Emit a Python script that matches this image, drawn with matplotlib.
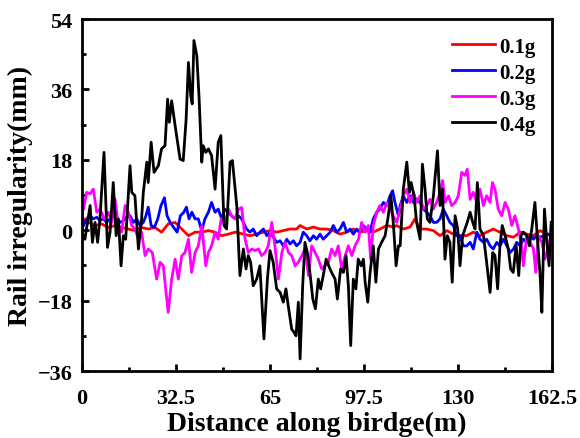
import matplotlib
matplotlib.use("Agg")
import matplotlib.pyplot as plt
from matplotlib.ticker import MultipleLocator

plt.rcParams['font.family'] = ['Liberation Serif', 'DejaVu Serif']
plt.rcParams['font.weight'] = 'bold'

# (distance m, irregularity mm)
pts_01g = [(0.5, 2.9), (2.2, 2.0), (4.5, 1.2), (6.8, 1.6), (9.1, 0.7), (11.4, 1.2),
           (13.7, 0.7), (16.0, 0.3), (18.3, -0.1), (20.6, 0.7), (22.9, 0.3), (25.2, 0.7),
           (27.5, -0.5), (29.8, 1.6), (32.2, 2.0), (34.5, 0.3), (36.8, -1.4), (39.1, -0.5),
           (41.4, -0.5), (43.7, -0.1), (46.0, -0.5), (48.3, -1.4), (50.6, -1.0), (53.0, -0.5),
           (55.8, -1.0), (58.1, -1.4), (60.4, -1.0), (62.7, -0.5), (65.0, -0.1), (67.3, -0.5),
           (69.6, -0.1), (71.9, 0.3), (74.2, 0.3), (75.4, 1.2), (77.7, 0.3), (80.0, 0.8),
           (82.3, 0.3), (84.6, 0.3), (86.9, -0.1), (89.2, -1.0), (91.5, -0.5), (93.8, 0.3),
           (96.1, -0.5), (98.4, -0.1), (100.7, -0.5), (103.0, 0.3), (105.4, 1.2), (107.7, 0.8),
           (108.8, 1.2), (111.1, 0.3), (113.4, 0.8), (115.1, 2.9), (116.9, 0.3), (119.2, 0.3),
           (121.5, -0.1), (123.8, -1.4), (126.1, -0.1), (128.4, -1.0), (130.7, -1.4),
           (133.0, -1.4), (135.3, -0.5), (137.6, -1.4), (139.9, -0.5), (142.2, 0.3),
           (144.5, -0.5), (146.9, -1.4), (149.2, -1.8), (151.5, -0.5), (153.8, -1.0),
           (156.1, -1.4), (158.4, -0.1), (160.7, -1.0), (161.9, -1.4)]

pts_02g = [(0.5, 1.2), (1.6, 2.9), (2.8, 3.7), (3.9, 2.9), (5.1, 3.3), (6.2, 2.5), (7.4, 2.9),
           (8.5, 2.0), (9.7, 2.9), (10.8, 3.7), (12.0, 2.9), (13.1, 2.0), (14.3, 2.5), (15.4, 3.3),
           (16.6, 3.7), (17.8, 2.0), (18.9, 2.9), (20.1, 1.2), (21.2, 2.0), (22.1, 3.7), (22.9, 5.9),
           (23.9, 1.2), (25.0, 0.7), (26.2, 2.9), (27.3, 6.3), (28.5, 8.3), (29.4, 3.7), (30.5, 2.0),
           (31.7, 0.7), (32.9, -0.5), (34.0, 3.7), (35.2, 4.6), (36.1, 5.9), (37.0, 2.9), (38.0, 4.6),
           (39.1, 2.9), (40.2, 2.9), (41.4, -0.1), (42.5, 2.9), (43.7, 4.6), (44.8, 7.1), (46.0, 4.6),
           (47.1, 5.4), (48.3, 2.9), (49.4, 5.4), (50.6, 4.6), (51.7, 3.7), (53.0, 2.9), (54.1, 3.7),
           (55.2, 2.9), (56.9, 0.3), (58.1, -0.5), (59.2, 0.3), (60.4, -1.4), (61.5, -0.5),
           (62.7, 0.3), (63.9, -1.4), (65.0, -0.5), (66.2, -1.8), (67.3, -3.1), (68.5, -2.7),
           (69.6, -4.0), (70.8, -2.3), (71.9, -3.5), (73.1, -2.7), (74.2, -4.0), (75.4, -3.1),
           (76.5, -0.5), (77.7, -1.4), (78.8, -2.7), (80.0, -1.4), (81.1, -2.3), (82.3, -1.0),
           (83.4, -2.3), (84.6, -1.4), (85.8, -0.5), (86.9, 1.2), (88.1, -0.5), (89.2, 0.3),
           (90.4, 2.0), (91.5, -0.5), (92.7, 0.3), (93.8, -1.0), (95.0, 0.3), (96.1, -0.5),
           (97.3, 1.2), (98.4, 0.3), (99.6, -0.5), (100.7, 2.9), (101.9, 4.6), (103.0, 5.4),
           (104.2, 7.1), (105.4, 6.3), (106.5, 8.8), (107.4, 10.1), (108.2, 7.1), (109.4, 3.7),
           (110.0, 6.3), (111.1, 8.8), (112.3, 7.1), (113.4, 8.8), (114.6, 7.1), (115.7, 8.0),
           (116.9, 7.1), (118.0, 5.4), (119.2, 4.6), (120.3, 3.7), (121.5, 2.0), (122.6, 2.0),
           (123.8, 2.9), (124.9, 5.4), (126.1, 3.7), (127.2, 2.0), (128.4, 1.2), (129.5, -1.4),
           (130.7, -1.4), (131.8, -4.0), (133.0, -4.0), (134.2, -3.1), (135.3, -4.8), (136.5, -0.5),
           (137.6, -2.3), (138.8, -3.1), (139.9, -2.3), (141.1, -4.0), (142.2, -4.8), (143.4, -3.1),
           (144.5, -4.0), (145.7, -2.3), (146.9, -4.0), (148.0, -5.7), (149.2, -4.8), (150.3, -3.1),
           (151.5, -4.0), (152.6, -2.3), (153.8, -3.1), (154.9, -1.4), (156.1, -2.3), (157.3, -1.4),
           (158.4, -1.8), (159.6, -1.4), (160.7, -1.0), (161.9, -1.0)]

pts_03g = [(0.5, 5.4), (1.6, 9.7), (2.8, 9.3), (3.9, 10.5), (5.1, 4.6), (6.2, 5.4), (7.7, 2.9),
           (9.1, 4.6), (10.3, 2.0), (11.4, 8.0), (12.6, 1.2), (13.7, -0.5), (14.9, 6.3), (16.0, 4.6),
           (17.2, 1.2), (18.3, 0.3), (19.5, -2.3), (20.6, -0.5), (21.8, -6.5), (22.9, -4.8),
           (24.3, -5.7), (25.8, -12.5), (27.0, -8.2), (28.1, -9.1), (29.8, -21.0), (31.0, -12.5),
           (32.2, -7.4), (33.3, -12.5), (34.5, -6.5), (35.6, -5.7), (36.8, -2.3), (37.9, -10.8),
           (39.1, -5.7), (40.2, -4.0), (41.4, 1.2), (42.8, -9.1), (43.7, -5.7), (44.8, -4.0),
           (46.0, -0.5), (47.1, -2.3), (48.1, 2.9), (49.4, 1.2), (50.6, 5.4), (51.7, 3.7),
           (53.0, 2.9), (54.1, 5.4), (55.2, 5.8), (56.4, -2.3), (57.5, -5.7), (58.7, -4.8),
           (59.8, -5.2), (61.0, -4.8), (62.1, -6.5), (63.3, -5.7), (64.4, -4.0), (65.6, 2.0),
           (66.7, -4.0), (67.9, -12.5), (69.1, -5.7), (70.2, -3.1), (71.4, -5.7), (72.5, -6.5),
           (73.7, -9.1), (74.8, -8.2), (76.0, -6.5), (77.1, -4.8), (78.3, -11.6), (79.4, -4.0),
           (80.6, -5.7), (81.7, -7.4), (82.9, -9.9), (84.0, -9.1), (85.2, -8.2), (86.3, -4.8),
           (87.5, -6.5), (88.6, -4.0), (89.8, -9.9), (91.0, -6.5), (92.1, -4.0), (93.3, -6.5),
           (94.4, -4.0), (95.6, -2.3), (96.7, 2.0), (97.9, -0.5), (99.0, 1.2), (99.8, -7.4),
           (100.7, 1.2), (101.9, 4.6), (103.0, 6.3), (104.2, 4.6), (105.4, 7.1), (106.5, 5.4),
           (107.6, 3.7), (108.8, 2.0), (110.0, 5.4), (111.1, 8.8), (112.3, 10.5), (113.4, 7.1),
           (114.6, 9.7), (115.7, 7.1), (116.9, 8.8), (118.0, 5.4), (119.2, 6.3), (120.3, 7.9),
           (121.5, 5.4), (122.6, 7.1), (123.8, 9.7), (124.7, 12.7), (125.5, 7.1), (126.7, 8.8),
           (127.8, 6.3), (129.0, 7.1), (130.1, 8.8), (131.3, 14.8), (132.4, 14.0), (133.2, 15.6),
           (134.2, 7.9), (135.3, 9.7), (136.5, 7.1), (137.6, 10.5), (138.8, 6.3), (139.9, 8.8),
           (141.1, 7.1), (141.9, 12.2), (142.8, 10.5), (143.9, 5.4), (145.1, 3.7), (146.3, 7.1),
           (147.4, 5.4), (148.6, 1.2), (149.7, 3.7), (150.9, 0.3), (152.0, -4.0), (152.6, -9.1),
           (153.8, -1.4), (154.9, -3.1), (156.1, -4.8), (156.9, -10.8), (157.8, -1.4),
           (159.0, -3.1), (160.1, -7.4), (161.3, -4.0), (162.1, -1.4)]

pts_04g = [(0.5, -1.4), (1.0, -2.3), (2.8, 6.3), (3.6, -3.1), (4.5, 2.0), (5.4, -3.1), (6.2, 2.9),
           (7.6, 19.9), (8.8, -4.4), (9.7, -0.5), (10.8, 12.2), (11.8, -1.4), (12.6, 2.9),
           (13.5, -9.1), (14.3, -1.4), (15.1, -2.3), (16.6, 16.5), (17.2, 9.7), (18.3, 8.8),
           (19.5, -4.8), (20.6, 2.9), (21.2, 9.7), (22.4, 17.4), (22.9, 12.2), (23.9, 22.5),
           (24.9, 14.8), (26.4, 16.5), (27.5, 20.8), (28.7, 21.6), (29.6, 33.5), (30.2, 27.6),
           (31.0, 33.1), (32.2, 26.7), (33.9, 18.2), (35.0, 17.8), (36.0, 28.4), (36.8, 42.9),
           (37.6, 34.4), (38.1, 32.3), (38.7, 48.5), (39.7, 44.6), (40.5, 33.5), (41.4, 17.4),
           (41.9, 21.6), (42.8, 19.9), (43.7, 20.8), (44.8, 19.1), (46.0, 10.5), (47.1, 22.5),
           (48.0, 24.2), (49.1, 1.2), (50.0, 0.3), (51.2, 17.4), (52.0, 17.8), (53.5, 6.3),
           (54.6, -11.6), (55.8, -4.8), (56.7, -9.9), (57.5, -6.5), (58.3, -8.2), (59.2, -14.2),
           (60.4, -12.5), (61.5, -9.1), (62.9, -27.8), (64.1, -12.5), (65.0, -5.2), (66.1, -8.2),
           (67.3, -15.0), (68.5, -15.9), (69.6, -18.4), (70.5, -15.0), (71.3, -19.3), (72.5, -25.3),
           (73.3, -26.1), (74.0, -27.0), (74.8, -18.4), (75.4, -32.9), (76.3, -14.2), (77.1, -3.1),
           (77.9, -5.7), (78.8, -10.8), (79.8, -17.6), (80.7, -20.1), (81.7, -12.5), (82.5, -15.0),
           (83.4, -11.6), (84.4, -7.4), (85.3, -9.1), (86.3, -10.8), (87.5, -12.5), (88.3, -17.6),
           (89.4, -9.9), (90.4, -10.8), (91.3, -6.5), (92.1, -14.2), (92.9, -29.5), (93.8, -12.5),
           (94.7, -15.0), (95.5, -7.4), (96.5, -9.1), (97.3, -7.4), (97.9, -13.3), (98.8, -18.4),
           (99.6, -10.8), (100.7, -4.0), (101.6, -13.3), (102.5, -4.8), (103.6, -3.1),
           (104.8, -1.4), (105.9, 3.7), (106.8, 8.8), (107.7, 1.2), (108.6, -9.1), (109.4, -4.0),
           (110.0, -4.0), (111.1, 10.5), (112.3, 17.4), (113.2, 9.7), (113.8, 12.2), (114.8, 8.8),
           (115.7, 2.0), (116.9, -2.3), (117.7, 16.9), (118.6, 10.5), (119.4, 2.9), (120.3, 2.0),
           (121.5, 8.8), (122.9, 20.3), (123.8, 6.3), (124.6, 10.5), (125.5, -7.4), (126.3, -1.4),
           (127.2, -3.1), (128.0, -13.3), (129.0, 3.7), (129.9, 0.3), (130.7, -9.1), (131.6, -1.4),
           (132.4, 0.3), (133.2, 2.0), (134.2, 4.6), (135.1, 2.0), (135.9, 0.3), (136.7, 12.2),
           (137.6, 0.3), (138.8, -1.4), (139.9, -8.2), (141.1, -15.9), (142.0, -5.7), (142.8, -6.5),
           (143.7, -15.0), (144.5, -4.0), (145.3, 1.2), (146.3, -1.4), (147.4, -4.8), (148.2, -9.9),
           (149.1, -10.8), (150.1, -4.0), (151.0, -11.6), (151.8, -1.4), (152.6, -0.5),
           (153.8, -1.4), (154.7, -4.0), (155.5, 0.3), (156.6, 7.1), (157.4, -1.4), (158.4, -11.6),
           (159.0, -21.0), (159.9, 5.4), (160.7, -3.1), (161.5, -9.1), (162.2, 2.0)]

series_labels = ['0.1g', '0.2g', '0.3g', '0.4g']
series_colors = ['#ff0000', '#0000ff', '#ff00ff', '#000000']
series_pts = [pts_01g, pts_02g, pts_03g, pts_04g]

x_ticks = [0, 32.5, 65, 97.5, 130, 162.5]
x_ticklabels = ['0', '32.5', '65', '97.5', '130', '162.5']
y_ticks = [-36, -18, 0, 18, 36, 54]

fig = plt.figure(figsize=(5.8, 4.39), dpi=100)
ax = fig.add_axes([0.1414, 0.1526, 0.8103, 0.8018])

for pts, lab, col in zip(series_pts, series_labels, series_colors):
    xs, ys = zip(*pts)
    ax.plot(xs, ys, color=col, lw=2.0, label=lab)

ax.set_xlim(0, 162.5)
ax.set_ylim(-36, 54)
ax.set_xticks(x_ticks)
ax.set_xticklabels(x_ticklabels)
ax.set_yticks(y_ticks)
ax.xaxis.set_minor_locator(MultipleLocator(16.25))
ax.yaxis.set_minor_locator(MultipleLocator(9))

ax.tick_params(which='both', direction='in', top=False, right=False, width=2)
ax.tick_params(which='major', length=5)
ax.tick_params(which='minor', length=3)
ax.tick_params(axis='x', which='major', pad=12, labelsize=16)
ax.tick_params(axis='y', which='major', pad=7, labelsize=16)
for sp in ax.spines.values():
    sp.set_linewidth(2.0)

ax.set_xlabel('Distance along birdge(m)', fontsize=20, fontweight='bold', labelpad=2)
ax.set_ylabel('Rail irregularity(mm)', fontsize=20, fontweight='bold', labelpad=3)

ax.legend(loc='upper right', bbox_to_anchor=(0.966, 0.95), frameon=False,
          prop={'size': 15, 'weight': 'bold'}, handlelength=2.1, handletextpad=0.2,
          labelspacing=0.29, borderpad=0, borderaxespad=0)

fig.savefig('out.png', dpi=100)
